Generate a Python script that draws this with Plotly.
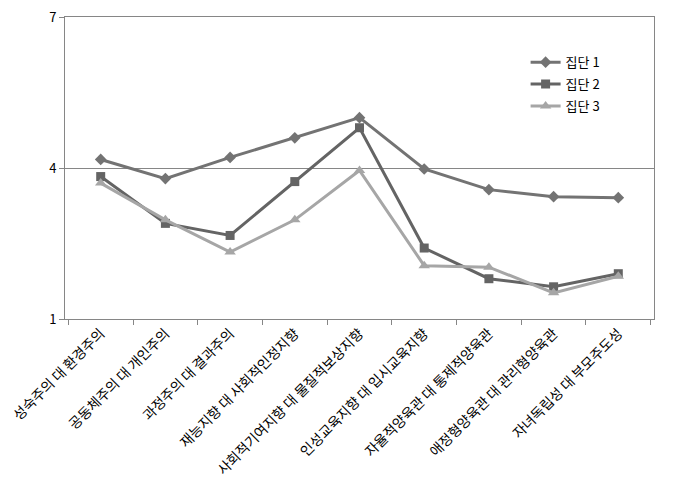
import plotly.graph_objects as go

categories = ["성숙주의 대 환경주의", "공동체주의 대 개인주의", "과정주의 대 결과주의",
              "재능지향 대 사회적인정지향", "사회적기여지향 대 물질적보상지향",
              "인성교육지향 대 입시교육지향", "자율적양육관 대 통제적양육관",
              "애정형양육관 대 관리형양육관", "자녀독립성 대 부모주도성"]
group1 = [4.17, 3.79, 4.21, 4.60, 5.00, 3.98, 3.57, 3.43, 3.41]
group2 = [3.83, 2.90, 2.66, 3.73, 4.80, 2.41, 1.80, 1.64, 1.90]
group3 = [3.70, 2.97, 2.33, 2.97, 3.95, 2.06, 2.03, 1.52, 1.85]
names = ["집단 1", "집단 2", "집단 3"]

fig = go.Figure()
styles = [("#737373", "diamond", 9), ("#646464", "square", 9), ("#a6a6a6", "triangle-up", 10)]
for name, vals, (col, sym, sz) in zip(names, [group1, group2, group3], styles):
    fig.add_trace(go.Scatter(x=categories, y=vals, name=name, mode="lines+markers",
                             legendgroup=name,
                             line=dict(color=col, width=3),
                             marker=dict(symbol=sym, size=sz, color=col)))

fig.update_layout(
    width=673, height=491,
    margin=dict(l=57, r=27, t=9, b=180),
    plot_bgcolor="white", paper_bgcolor="white",
    font=dict(family="Noto Sans CJK KR, sans-serif", size=13, color="#000000"),
    legend=dict(x=0.782, y=0.9, xanchor="left", yanchor="top",
                bgcolor="rgba(0,0,0,0)", font=dict(size=13, color="#000000"),
                itemwidth=30, tracegroupgap=2),
    showlegend=True,
)
fig.update_xaxes(showline=True, linecolor="#868686", linewidth=1, mirror=True,
                 ticks="outside", ticklen=5, tickcolor="#868686", tickson="boundaries",
                 tickangle=-45, showgrid=False, tickfont=dict(size=14, color="#000000"),
                 automargin=False, ticklabeloverflow="allow")
fig.update_yaxes(range=[1, 7], tickvals=[1, 4, 7], showline=True, linecolor="#868686",
                 linewidth=1, mirror=True, ticks="outside", ticklen=5, tickcolor="#868686",
                 showgrid=True, gridcolor="#868686", gridwidth=1, zeroline=False,
                 tickfont=dict(size=13, color="#000000"), automargin=False,
                 ticklabeloverflow="allow")

fig.write_html("out.html")
